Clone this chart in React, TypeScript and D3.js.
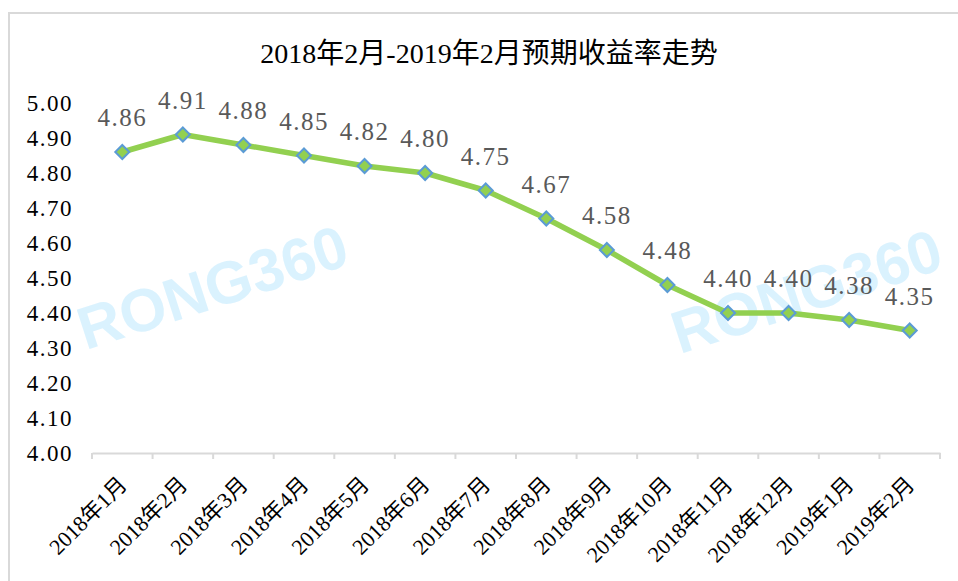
import { useEffect, useRef } from "react";
import * as d3 from "d3";

const months = [
  "2018年1月", "2018年2月", "2018年3月", "2018年4月", "2018年5月", "2018年6月", "2018年7月",
  "2018年8月", "2018年9月", "2018年10月", "2018年11月", "2018年12月", "2019年1月", "2019年2月",
];
const rates = [4.86, 4.91, 4.88, 4.85, 4.82, 4.80, 4.75, 4.67, 4.58, 4.48, 4.40, 4.40, 4.38, 4.35];
const yTicks = [4.0, 4.1, 4.2, 4.3, 4.4, 4.5, 4.6, 4.7, 4.8, 4.9, 5.0];
const title = "2018年2月-2019年2月预期收益率走势";
const watermark = "RONG360";

const serif = "'Liberation Serif', 'Noto Sans CJK SC', serif";

const App = () => {
  const svgRef = useRef<SVGSVGElement>(null);

  useEffect(() => {
    const svg = d3.select(svgRef.current);
    svg.selectAll("*").remove();

    const W = 958, H = 581;
    svg.attr("width", W).attr("height", H);

    // chart frame
    svg.append("rect").attr("x", 9).attr("y", 13).attr("width", 960).attr("height", 600)
      .attr("fill", "#fff").attr("stroke", "#d9d9d9").attr("stroke-width", 2);

    // watermarks
    [[214, 292], [808, 296]].forEach(([cx, cy]) => {
      svg.append("text").attr("transform", `translate(${cx},${cy}) rotate(-18)`)
        .attr("text-anchor", "middle").attr("dominant-baseline", "middle")
        .style("font-family", "'Liberation Sans', Arial, sans-serif").style("font-weight", "bold")
        .style("font-size", "60px").attr("fill", "#d2f0fe").attr("opacity", 0.8)
        .text(watermark);
    });

    const x = d3.scaleBand().domain(months).range([92, 940]);
    const y = d3.scaleLinear().domain([4, 5]).range([453, 103]);

    // title
    svg.append("text").attr("x", 489).attr("y", 63).attr("text-anchor", "middle")
      .style("font-family", serif).style("font-size", "28px").attr("fill", "#000").text(title);

    // y axis labels
    svg.append("g").selectAll("text").data(yTicks).enter().append("text")
      .attr("x", 73).attr("y", (d) => y(d)).attr("dy", "0.35em").attr("text-anchor", "end")
      .style("font-family", serif).style("font-size", "23px").style("letter-spacing", "1.5px")
      .attr("fill", "#000").text((d) => d3.format(".2f")(d));

    // x axis
    const xAxis = svg.append("g").attr("transform", `translate(0, ${y(4)})`)
      .call(d3.axisBottom(x).tickSize(0).tickFormat(() => ""));
    xAxis.select(".domain").attr("stroke", "#d9d9d9").attr("stroke-width", 2);
    const edges = months.map((m) => x(m) as number).concat([940]);
    svg.append("g").selectAll("line").data(edges).enter().append("line")
      .attr("x1", (d) => d).attr("x2", (d) => d).attr("y1", y(4)).attr("y2", y(4) + 6)
      .attr("stroke", "#d9d9d9").attr("stroke-width", 2);

    svg.append("g").selectAll("text").data(months).enter().append("text")
      .attr("transform", (d) => `translate(${(x(d) as number) + x.bandwidth() / 2 + 6}, 486) rotate(-45)`)
      .attr("text-anchor", "end")
      .style("font-family", serif).style("font-size", "22px").attr("fill", "#000")
      .text((d) => d);

    // line
    const line = d3.line<number>().x((d, i) => (x(months[i]) as number) + x.bandwidth() / 2).y((d) => y(d));
    svg.append("path").datum(rates).attr("d", line).attr("fill", "none")
      .attr("stroke", "#92d050").attr("stroke-width", 5.5).attr("stroke-linejoin", "round");

    // markers
    svg.append("g").selectAll("path").data(rates).enter().append("path")
      .attr("transform", (d, i) => `translate(${(x(months[i]) as number) + x.bandwidth() / 2}, ${y(d)})`)
      .attr("d", "M0,-7L7,0L0,7L-7,0Z")
      .attr("fill", "#92d050").attr("stroke", "#5b9bd5").attr("stroke-width", 2);

    // data labels
    svg.append("g").selectAll("text").data(rates).enter().append("text")
      .attr("x", (d, i) => (x(months[i]) as number) + x.bandwidth() / 2)
      .attr("y", (d) => y(d) - 26).attr("text-anchor", "middle")
      .style("font-family", serif).style("font-size", "25px").style("letter-spacing", "1.5px")
      .attr("fill", "#595959").text((d) => d3.format(".2f")(d));
  }, []);

  return <svg ref={svgRef} style={{ position: "absolute", left: 0, top: 0 }}></svg>;
};

export default App;
